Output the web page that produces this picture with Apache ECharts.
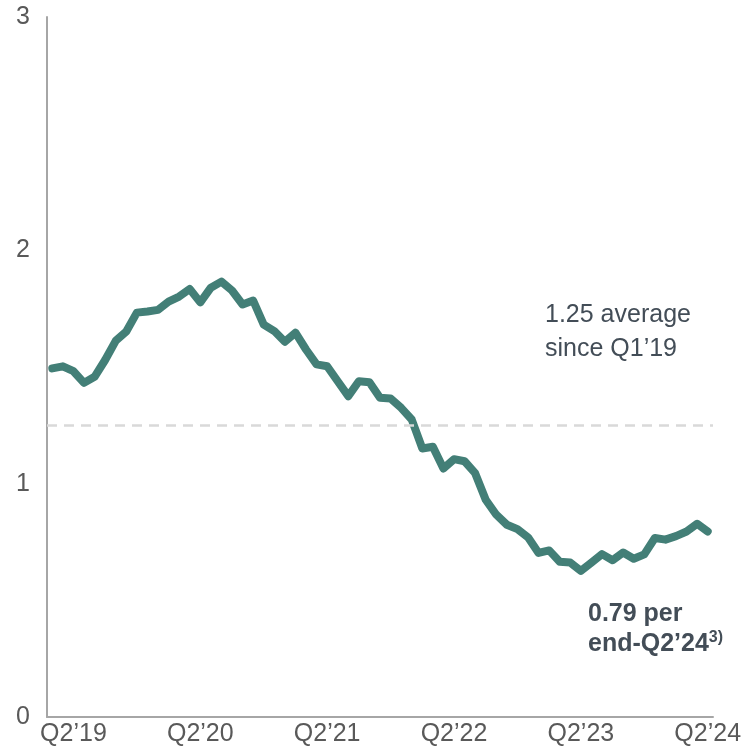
<!DOCTYPE html>
<html>
<head>
<meta charset="utf-8">
<script src="https://cdn.jsdelivr.net/npm/echarts@6/dist/echarts.min.js"></script>
<style>
html,body{margin:0;padding:0;background:#fff;}
#c{width:746px;height:755px;}
</style>
</head>
<body>
<div id="c"></div>
<script>
// Monthly categories: Apr'19 .. Jun'24
const monthNames = ['Jan','Feb','Mar','Apr','May','Jun','Jul','Aug','Sep','Oct','Nov','Dec'];
const categories = [];
for (let y = 2019; y <= 2024; y++) {
  for (let m = 0; m < 12; m++) {
    if (y === 2019 && m < 3) continue;
    if (y === 2024 && m > 5) break;
    categories.push(monthNames[m] + '’' + String(y).slice(2));
  }
}
const values = [
  1.494, 1.503, 1.482, 1.432, 1.458, 1.53, 1.612, 1.652, 1.733, 1.738,
  1.745, 1.78, 1.802, 1.834, 1.777, 1.840, 1.866, 1.828, 1.768, 1.785,
  1.682, 1.654, 1.608, 1.647, 1.575, 1.511, 1.503, 1.439, 1.375, 1.439,
  1.435, 1.368, 1.365, 1.325, 1.275, 1.151, 1.158, 1.065, 1.105, 1.096,
  1.045, 0.931, 0.867, 0.824, 0.805, 0.770, 0.703, 0.714, 0.665, 0.662,
  0.626, 0.662, 0.698, 0.672, 0.705, 0.678, 0.697, 0.767, 0.760, 0.775,
  0.795, 0.828, 0.795
];
const average = 1.25;
const yTicks = [0, 1, 2, 3];
const avgText = ['1.25 average', 'since Q1’19'];
const endText = ['0.79 per', 'end-Q2’24', '3)'];

const FONT = '"Liberation Sans", Arial, sans-serif';
const chart = echarts.init(document.getElementById('c'), null, {renderer: 'canvas'});
chart.setOption({
  animation: false,
  backgroundColor: '#ffffff',
  grid: {left: 47, right: 33, top: 17, bottom: 38, containLabel: false},
  xAxis: {
    type: 'category',
    data: categories,
    boundaryGap: true,
    axisLine: {show: true, lineStyle: {color: '#a6a6a6', width: 2}},
    axisTick: {show: false},
    splitLine: {show: false},
    axisLabel: {
      interval: function (idx, val) { return String(val).startsWith('Jun'); },
      formatter: function (val) { return 'Q2’' + val.slice(-2); },
      fontSize: 25, fontFamily: FONT, color: '#595959', margin: 5, hideOverlap: false
    }
  },
  yAxis: {
    type: 'value',
    min: yTicks[0], max: yTicks[yTicks.length - 1], interval: 1,
    axisLine: {show: true, lineStyle: {color: '#a6a6a6', width: 2}},
    axisTick: {show: false},
    splitLine: {show: false},
    axisLabel: {fontSize: 25, fontFamily: FONT, color: '#595959', margin: 17}
  },
  series: [
    {
      type: 'line', data: [], z: 1, silent: true,
      markLine: {
        silent: true, symbol: 'none', animation: false,
        label: {show: false},
        lineStyle: {color: '#d9d9d9', type: [10, 7], width: 2.5},
        data: [{yAxis: average}]
      }
    },
    {
      type: 'line', data: values, z: 3,
      showSymbol: false, symbol: 'none', smooth: false,
      lineStyle: {color: '#437f77', width: 8, join: 'round', cap: 'round'}
    }
  ],
  graphic: [
    {
      type: 'text', left: 545, top: 298, silent: true,
      style: {text: avgText.join('\n'), font: '25px ' + FONT, fill: '#434d57', lineHeight: 34}
    },
    {
      type: 'text', left: 588, top: 602, silent: true,
      style: {
        text: '{b|' + endText[0] + '}\n{b|' + endText[1] + '}{s|' + endText[2] + '}',
        rich: {
          b: {fontSize: 25, fontWeight: 'bold', fontFamily: FONT, fill: '#434d57', color: '#434d57', lineHeight: 30},
          s: {fontSize: 16, fontWeight: 'bold', fontFamily: FONT, fill: '#434d57', color: '#434d57', lineHeight: 22, verticalAlign: 'top'}
        }
      }
    }
  ]
});
</script>
</body>
</html>
